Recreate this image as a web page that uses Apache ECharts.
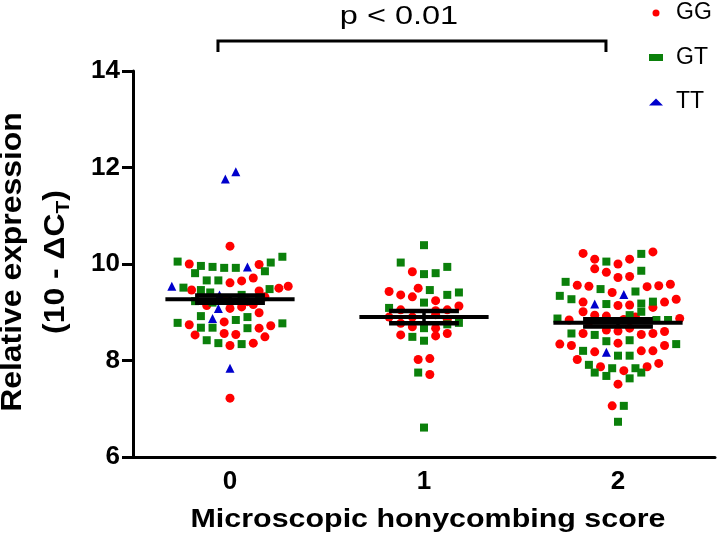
<!DOCTYPE html>
<html>
<head>
<meta charset="utf-8">
<script src="https://cdn.jsdelivr.net/npm/echarts@6/dist/echarts.min.js"></script>
<style>
html,body{margin:0;padding:0;background:#fff;}
#chart{width:721px;height:543px;}
</style>
</head>
<body>
<div id="chart"></div>
<script>
// ---------------- DATA ----------------
const categories = ['0', '1', '2'];
const genotypes = ['GG', 'GT', 'TT'];
const yTicks = [6, 8, 10, 12, 14];

// each point: [swarm slot (horizontal offset within the swarm), value]
const gg0 = [[0,10.37],[-3.5,10.00],[2.5,9.99],[0,9.61],[1,9.65],[2,9.71],[-3.3,9.46],[2.5,9.44],[4.2,9.50],[5,9.54],
  [-2,9.14],[0,9.08],[1,9.11],[2,9.16],[2.5,8.99],[-0.5,8.80],[-3.5,8.74],[2.5,8.67],[3.5,8.72],[-3,8.53],
  [-0.5,8.56],[0.5,8.54],[3,8.49],[0,8.31],[2,8.36],[0,7.22],[-0.5,9.28],[1.5,9.22],[3,9.32]];
const gt0 = [[-4.5,10.05],[-2.5,9.96],[-1.5,9.94],[-0.5,9.92],[0.5,9.92],[3.5,10.03],[4.5,10.15],[-3,9.81],[3,9.85],
  [-2,9.66],[-1,9.66],[-4,9.51],[-2.5,9.46],[-1.7,9.41],[3.4,9.48],[-3,9.23],[-2.5,8.92],[0.5,8.84],[1.5,8.90],
  [-4.5,8.78],[-2.5,8.68],[-1.5,8.68],[1.5,8.67],[4.5,8.77],[-2,8.42],[-1,8.36],[1,8.34],[1,9.36],[2.5,9.30],[-1.5,9.20]];
const tt0 = [[-0.4,11.76],[0.5,11.91],[1.5,9.94],[-5,9.54],[-0.9,9.36],[-1,9.08],[-1.5,8.87],[0,7.84]];

const gg1 = [[-1,9.84],[-3,9.43],[-2,9.36],[-1,9.32],[-0.5,9.50],[1,9.24],[3,9.13],[-2,9.05],[1,9.03],[2,9.05],
  [-3,8.90],[-1,8.90],[-2,8.77],[-1,8.70],[1,8.67],[-2,8.53],[1,8.51],[2,8.56],[-0.5,8.02],[0.5,8.04],[0.5,7.71],
  [1,8.95],[2,8.85]];
const gt1 = [[0,10.39],[-2,10.03],[0,9.79],[1,9.81],[2,9.94],[0.5,9.46],[2,9.36],[3,9.41],[0,9.20],[-3,9.09],
  [0,8.67],[2,8.75],[3,8.78],[-1,8.49],[0,8.41],[-0.5,7.75],[0,6.61]];
const tt1 = [];

const gg2 = [[-3,10.22],[-2,10.10],[0,10.00],[1,10.10],[3,10.25],[-2,9.90],[-1,9.83],[0,9.72],[1,9.74],[-3.5,9.56],
  [-2.5,9.54],[-0.5,9.41],[2.5,9.53],[3.5,9.55],[4.5,9.58],[-3,9.21],[0,9.14],[1,9.15],[3,9.10],[4,9.21],[5,9.27],
  [-3,9.01],[-2,8.94],[-4.2,8.84],[5.3,8.87],[-3,8.56],[2,8.54],[3,8.56],[4,8.60],[0,8.36],[-5,8.34],[-4,8.31],
  [4,8.31],[-2,8.18],[2,8.20],[3,8.20],[-3.5,8.02],[-1.5,7.87],[0.5,7.79],[2.5,7.87],[3.5,7.94],[0,7.51],[-0.5,7.06],
  [-1,8.63],[0,8.61],[1,8.67],[-2.5,8.80],[0.5,8.85],[-1,8.92],[1.5,8.90]];
const gt2 = [[-1,10.05],[2,10.21],[2,9.86],[-4.5,9.63],[-1.5,9.48],[1.5,9.43],[-5,9.34],[-4,9.27],[-1,9.17],[2,9.18],
  [3,9.22],[1,8.94],[2,9.01],[-5.2,8.87],[3.3,8.84],[4.3,8.84],[-4,8.56],[-2,8.53],[1,8.42],[-1,8.40],[5,8.34],
  [-3,8.20],[0,8.10],[1,8.10],[-2.5,7.91],[-0.5,7.84],[1.5,7.84],[-2,7.75],[-1,7.68],[1,7.63],[2,7.75],[0.5,7.06],[0,6.73]];
const tt2 = [[0.5,9.37],[-2,9.17],[-1,8.17]];

const means = [9.27, 8.90, 8.78];
const sems = [0.075, 0.128, 0.075];
const pLabel = 'p < 0.01';
const pGroups = [0, 2];
const xTitle = 'Microscopic honycombing score';

// ---------------- BUILD ----------------
const SLOT = 0.06;
function build(groups) {
  const out = [];
  groups.forEach((g, i) => g.forEach(p => out.push([i + p[0] * SLOT, p[1]])));
  return out;
}
const seriesData = {
  GG: build([gg0, gg1, gg2]),
  GT: build([gt0, gt1, gt2]),
  TT: build([tt0, tt1, tt2])
};
const colors = { GG: '#ff0000', GT: '#0b800b', TT: '#0000cc' };
const symbols = { GG: 'circle', GT: 'rect', TT: 'triangle' };
const sizes = { GG: 9, GT: 8, TT: 9 };
const FONT = '"Liberation Sans", Arial, Helvetica, sans-serif';

const chart = echarts.init(document.getElementById('chart'), null, { renderer: 'canvas' });

const scatterSeries = genotypes.map(g => ({
  name: g,
  type: 'scatter',
  xAxisIndex: 1,
  yAxisIndex: 0,
  symbol: symbols[g],
  symbolSize: sizes[g],
  itemStyle: { color: colors[g], opacity: 1 },
  data: seriesData[g],
  z: 2
}));

const meanSeries = {
  type: 'custom',
  xAxisIndex: 1,
  yAxisIndex: 0,
  z: 5,
  silent: true,
  data: means.map((m, i) => [i, m, sems[i]]),
  renderItem: function (params, api) {
    const i = api.value(0), m = api.value(1), s = api.value(2);
    const a = api.coord([i - 0.333, m]), b = api.coord([i + 0.333, m]);
    const t1 = api.coord([i - 0.18, m + s]), t2 = api.coord([i + 0.18, m + s]);
    const b1 = api.coord([i - 0.18, m - s]), b2 = api.coord([i + 0.18, m - s]);
    const vt = api.coord([i, m + s]), vb = api.coord([i, m - s]);
    const st = { stroke: '#000', lineWidth: 4.5 };
    return {
      type: 'group',
      children: [
        { type: 'line', shape: { x1: a[0], y1: a[1], x2: b[0], y2: b[1] }, style: { stroke: '#000', lineWidth: 4 } },
        { type: 'line', shape: { x1: t1[0], y1: t1[1], x2: t2[0], y2: t2[1] }, style: st },
        { type: 'line', shape: { x1: b1[0], y1: b1[1], x2: b2[0], y2: b2[1] }, style: st },
        { type: 'line', shape: { x1: vt[0], y1: vt[1], x2: vb[0], y2: vb[1] }, style: { stroke: '#000', lineWidth: 3.5 } }
      ]
    };
  }
};

const bracketSeries = {
  type: 'custom',
  xAxisIndex: 1,
  yAxisIndex: 0,
  clip: false,
  silent: true,
  z: 5,
  data: [[pGroups[0], pGroups[1]]],
  renderItem: function (params, api) {
    const g0 = api.value(0), g1 = api.value(1);
    const l = api.coord([g0 - 0.062, 14.622]);
    const r = api.coord([g1 - 0.062, 14.622]);
    const lb = api.coord([g0 - 0.062, 14.394]);
    const rb = api.coord([g1 - 0.062, 14.394]);
    const tp = api.coord([g0 + (g1 - g0) * 0.4355, 15.12]);
    return {
      type: 'group',
      children: [
        { type: 'polyline', shape: { points: [lb, l, r, rb] }, style: { stroke: '#000', lineWidth: 3, fill: null } },
        { type: 'text', x: tp[0], y: tp[1], scaleX: 1.25, style: { text: pLabel, align: 'center', verticalAlign: 'middle', fill: '#000', font: '26px ' + FONT } }
      ]
    };
  }
};

const option = {
  animation: false,
  backgroundColor: '#fff',
  grid: { left: 133, right: 6, top: 71, bottom: 86, containLabel: false },
  legend: {
    data: genotypes,
    orient: 'vertical',
    left: 649,
    top: 0,
    padding: 0,
    itemWidth: 14,
    itemHeight: 7,
    itemGap: 18.5,
    textStyle: { fontSize: 23, lineHeight: 26, color: '#000', fontFamily: FONT, padding: [0, 0, 0, 8] }
  },
  xAxis: [
    {
      type: 'category',
      data: categories,
      boundaryGap: true,
      gridIndex: 0,
      axisLine: { onZero: false, lineStyle: { color: '#000', width: 3 } },
      axisTick: { alignWithLabel: true, length: 10, lineStyle: { color: '#000', width: 3 } },
      axisLabel: { color: '#000', fontSize: 26, fontWeight: 'bold', fontFamily: FONT, margin: 12 },
      splitLine: { show: false }
    },
    { type: 'value', min: -0.5, max: 2.5, show: false, gridIndex: 0 }
  ],
  yAxis: [{
    type: 'value',
    min: yTicks[0],
    max: yTicks[yTicks.length - 1],
    interval: 2,
    axisLine: { show: true, onZero: false, lineStyle: { color: '#000', width: 3 } },
    axisTick: { show: true, length: 11, lineStyle: { color: '#000', width: 3 } },
    axisLabel: { color: '#000', fontSize: 26, fontWeight: 'bold', fontFamily: FONT, margin: 13 },
    splitLine: { show: false }
  }],
  graphic: [
    {
      type: 'text', x: 428, y: 520, scaleX: 1.17,
      style: { text: xTitle, align: 'center', verticalAlign: 'middle', fill: '#000', font: 'bold 26px ' + FONT }
    },
    {
      type: 'text', x: 13, y: 262, rotation: Math.PI / 2, scaleX: 1.1,
      style: { text: 'Relative expression', align: 'center', verticalAlign: 'middle', fill: '#000', font: 'bold 29px ' + FONT }
    },
    {
      type: 'text', x: 56, y: 262, rotation: Math.PI / 2, scaleX: 1.1,
      style: {
        text: '{a|(10 - ΔC}{s|T}{a|)}',
        align: 'center', verticalAlign: 'middle',
        rich: {
          a: { fontSize: 29, fontWeight: 'bold', fontFamily: FONT, fill: '#000', lineHeight: 34, verticalAlign: 'middle' },
          s: { fontSize: 19, fontWeight: 'bold', fontFamily: FONT, fill: '#000', verticalAlign: 'top', padding: [15, 0, 0, 0] }
        }
      }
    }
  ],
  series: scatterSeries.concat([meanSeries, bracketSeries])
};
chart.setOption(option);
</script>
</body>
</html>
